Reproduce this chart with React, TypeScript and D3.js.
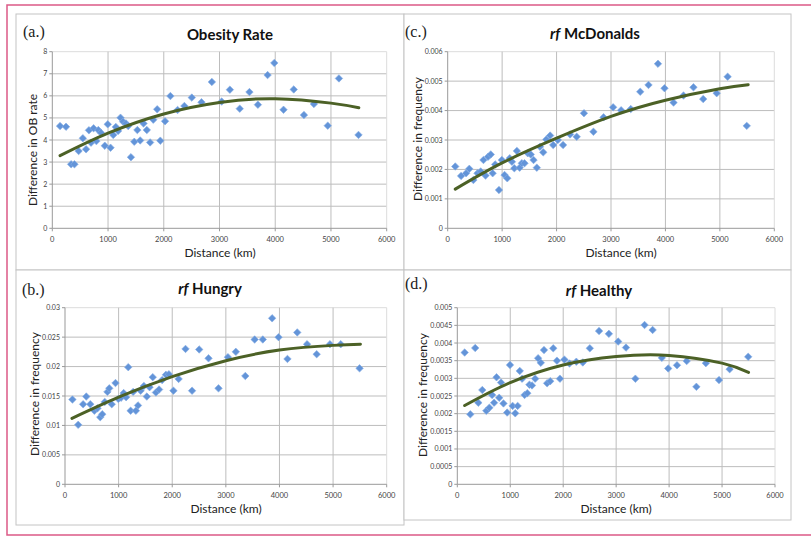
import React, { useEffect, useRef } from 'react';
import * as d3 from 'd3';

// distances (km) shared by all four panels
const distances = [
  139, 246, 338, 397, 472, 548, 606, 657, 695, 741,
  791, 826, 872, 942, 995, 1045, 1094, 1140, 1180, 1224,
  1271, 1322, 1362, 1411, 1471, 1526, 1577, 1637, 1696, 1755,
  1812, 1882, 1938, 2023, 2119, 2248, 2370, 2503, 2677, 2863,
  3039, 3186, 3363, 3537, 3689, 3863, 3983, 4149, 4332, 4515,
  4694, 4942, 5143, 5494,
];

const obesityDiff = [
  4.63, 4.60, 2.90, 2.90, 3.50, 4.08, 3.58, 4.44, 3.88, 4.53,
  3.95, 4.45, 4.33, 3.74, 4.71, 3.65, 4.23, 4.59, 4.41, 5.01,
  4.83, 4.75, 4.63, 3.22, 3.92, 4.45, 3.98, 4.75, 4.45, 3.89,
  4.92, 5.39, 3.97, 4.85, 5.99, 5.36, 5.54, 5.92, 5.71, 6.63,
  5.74, 6.28, 5.42, 6.17, 5.60, 6.94, 7.49, 5.37, 6.29, 5.13,
  5.63, 4.65, 6.79, 4.23,
];

const mcdonaldsDiff = [
  0.00210, 0.00178, 0.00187, 0.00202, 0.00164, 0.00187, 0.00193, 0.00232, 0.00179, 0.00243,
  0.00251, 0.00187, 0.00217, 0.00130, 0.00232, 0.00181, 0.00170, 0.00238, 0.00226, 0.00204,
  0.00263, 0.00206, 0.00221, 0.00221, 0.00255, 0.00251, 0.00232, 0.00206, 0.00277, 0.00258,
  0.00302, 0.00315, 0.00283, 0.00300, 0.00283, 0.00319, 0.00311, 0.00391, 0.00328, 0.00377,
  0.00411, 0.00401, 0.00405, 0.00464, 0.00487, 0.00559, 0.00476, 0.00427, 0.00451, 0.00479,
  0.00439, 0.00459, 0.00515, 0.00348,
];

const hungryDiff = [
  0.0144, 0.0101, 0.0136, 0.0149, 0.0136, 0.0125, 0.0129, 0.0114, 0.0119, 0.0140,
  0.0157, 0.0163, 0.0136, 0.0172, 0.0145, 0.0147, 0.0155, 0.0148, 0.0199, 0.0125,
  0.0157, 0.0125, 0.0134, 0.0159, 0.0167, 0.0149, 0.0165, 0.0182, 0.0156, 0.0161,
  0.0177, 0.0186, 0.0187, 0.0159, 0.0179, 0.0230, 0.0159, 0.0229, 0.0214, 0.0163,
  0.0216, 0.0225, 0.0184, 0.0246, 0.0246, 0.0282, 0.0250, 0.0213, 0.0258, 0.0238,
  0.0221, 0.0238, 0.0238, 0.0197,
];

const healthyDiff = [
  0.00373, 0.00198, 0.00386, 0.00231, 0.00267, 0.00208, 0.00217, 0.00253, 0.00231, 0.00303,
  0.00245, 0.00288, 0.00229, 0.00203, 0.00338, 0.00222, 0.00201, 0.00222, 0.00321, 0.00299,
  0.00253, 0.00258, 0.00282, 0.00280, 0.00299, 0.00357, 0.00344, 0.00380, 0.00286, 0.00292,
  0.00385, 0.00350, 0.00299, 0.00353, 0.00342, 0.00347, 0.00345, 0.00385, 0.00434, 0.00426,
  0.00404, 0.00387, 0.00299, 0.00451, 0.00437, 0.00358, 0.00328, 0.00337, 0.00349, 0.00276,
  0.00343, 0.00295, 0.00326, 0.00361,
];

// trend lines
const obesityTrendX = [139, 1000, 2000, 3000, 4000, 5000, 5500];
const obesityTrendY = [3.29, 4.31, 5.18, 5.70, 5.87, 5.67, 5.46];
const mcdonaldsTrendX = [139, 1000, 2000, 3000, 4000, 5000, 5520];
const mcdonaldsTrendY = [0.00133, 0.00222, 0.00306, 0.00380, 0.00435, 0.00474, 0.00488];
const hungryTrendX = [130, 1000, 2000, 3000, 4000, 5000, 5510];
const hungryTrendY = [0.0112, 0.0148, 0.0183, 0.0210, 0.0228, 0.0236, 0.0238];
const healthyTrendX = [139, 1000, 2000, 3000, 4000, 5000, 5500];
const healthyTrendY = [0.00223, 0.00288, 0.00338, 0.00362, 0.00365, 0.00343, 0.00317];

const xTicks = [0, 1000, 2000, 3000, 4000, 5000, 6000];
const obesityTicks = [0, 1, 2, 3, 4, 5, 6, 7, 8];
const mcdonaldsTicks = [0, 0.001, 0.002, 0.003, 0.004, 0.005, 0.006];
const hungryTicks = [0, 0.005, 0.01, 0.015, 0.02, 0.025, 0.03];
const healthyTicks = [0, 0.0005, 0.001, 0.0015, 0.002, 0.0025, 0.003, 0.0035, 0.004, 0.0045, 0.005];

const panels = [
  {
    label: '(a.)', rf: false, title: 'Obesity Rate', yTitle: 'Difference in OB rate',
    values: obesityDiff, yTicks: obesityTicks, trendX: obesityTrendX, trendY: obesityTrendY,
    box: [16, 14, 404, 270], plot: [52.3, 386.7, 51.7, 228.3],
    labelAt: [23, 37], titleAt: [230, 40], yTitleAt: [33, 150], xTitleAt: [220, 257], xTickY: 242,
  },
  {
    label: '(c.)', rf: true, title: 'McDonalds', yTitle: 'Difference in frequency',
    values: mcdonaldsDiff, yTicks: mcdonaldsTicks, trendX: mcdonaldsTrendX, trendY: mcdonaldsTrendY,
    box: [404, 14, 791, 270], plot: [447.7, 774.3, 51.7, 228.3],
    labelAt: [405, 37], titleAt: [595, 39], yTitleAt: [418, 139], xTitleAt: [621, 257], xTickY: 242,
  },
  {
    label: '(b.)', rf: true, title: 'Hungry', yTitle: 'Difference in frequency',
    values: hungryDiff, yTicks: hungryTicks, trendX: hungryTrendX, trendY: hungryTrendY,
    box: [16, 270, 404, 525], plot: [65, 386.7, 307.7, 484.3],
    labelAt: [22, 295], titleAt: [210, 294], yTitleAt: [35, 394], xTitleAt: [226, 513], xTickY: 498,
  },
  {
    label: '(d.)', rf: true, title: 'Healthy', yTitle: 'Difference in frequency',
    values: healthyDiff, yTicks: healthyTicks, trendX: healthyTrendX, trendY: healthyTrendY,
    box: [404, 270, 791, 520], plot: [457.3, 775, 307.7, 484.3],
    labelAt: [405, 289], titleAt: [599, 296], yTitleAt: [423, 395], xTitleAt: [616, 513], xTickY: 498,
  },
];

const sans = 'Lato, "Open Sans", sans-serif';

const App: React.FC = () => {
  const svgRef = useRef<SVGSVGElement>(null);

  useEffect(() => {
    if (!svgRef.current) return;
    const svg = d3.select(svgRef.current);
    svg.selectAll('*').remove();

    svg.append('rect').attr('width', 811).attr('height', 540).attr('fill', '#fff');

    panels.forEach(p => {
      const [bx0, by0, bx1, by1] = p.box;
      const [l, r, t, b] = p.plot;
      const x = d3.scaleLinear().domain([0, 6000]).range([l, r]);
      const yMax = p.yTicks[p.yTicks.length - 1];
      const y = d3.scaleLinear().domain([0, yMax]).range([b, t]);

      const g = svg.append('g');

      g.append('rect')
        .attr('x', bx0).attr('y', by0)
        .attr('width', bx1 - bx0).attr('height', by1 - by0)
        .attr('fill', '#fff').attr('stroke', '#c4c4c4').attr('stroke-width', 1);

      // gridlines
      g.selectAll('.hg').data(p.yTicks.slice(1)).enter().append('line')
        .attr('x1', l).attr('x2', r)
        .attr('y1', d => y(d)).attr('y2', d => y(d))
        .attr('stroke', (d, i) => (i === p.yTicks.length - 2 ? '#dcdcdc' : '#bdbdbd'))
        .attr('stroke-width', 1);
      g.selectAll('.vg').data(xTicks.slice(1)).enter().append('line')
        .attr('y1', t).attr('y2', b)
        .attr('x1', d => x(d)).attr('x2', d => x(d))
        .attr('stroke', (d, i) => (i === xTicks.length - 2 ? '#dcdcdc' : '#bdbdbd'))
        .attr('stroke-width', 1);

      // axes
      g.append('line').attr('x1', l).attr('x2', r).attr('y1', b).attr('y2', b)
        .attr('stroke', '#999').attr('stroke-width', 1);
      g.append('line').attr('x1', l).attr('x2', l).attr('y1', t).attr('y2', b)
        .attr('stroke', '#999').attr('stroke-width', 1);
      g.selectAll('.xt').data(xTicks).enter().append('line')
        .attr('x1', d => x(d)).attr('x2', d => x(d)).attr('y1', b).attr('y2', b + 3)
        .attr('stroke', '#999');
      g.selectAll('.yt').data(p.yTicks).enter().append('line')
        .attr('x1', l - 3).attr('x2', l).attr('y1', d => y(d)).attr('y2', d => y(d))
        .attr('stroke', '#999');

      g.selectAll('.xl').data(xTicks).enter().append('text')
        .attr('x', d => x(d)).attr('y', p.xTickY)
        .attr('text-anchor', 'middle')
        .attr('font-family', sans).attr('font-size', 7.5).attr('fill', '#444')
        .text(d => String(d));
      g.selectAll('.yl').data(p.yTicks).enter().append('text')
        .attr('x', l - 5).attr('y', d => y(d) + 2.5)
        .attr('text-anchor', 'end')
        .attr('font-family', sans).attr('font-size', 7).attr('fill', '#444')
        .text(d => String(d));

      // trend line
      const trend = p.trendX.map((v, i) => [v, p.trendY[i]] as [number, number]);
      const line = d3.line<[number, number]>()
        .x(d => x(d[0]))
        .y(d => y(d[1]))
        .curve(d3.curveNatural);

      // points
      const diamond = d3.symbol().type(d3.symbolSquare).size(28);
      g.selectAll('.pt').data(distances).enter().append('path')
        .attr('d', diamond)
        .attr('transform', (d, i) => `translate(${x(d)},${y(p.values[i])}) rotate(45)`)
        .attr('fill', '#6394d8')
        .attr('stroke', '#86aee6')
        .attr('stroke-width', 0.6);

      g.append('path')
        .datum(trend)
        .attr('fill', 'none')
        .attr('stroke', '#4c6126')
        .attr('stroke-width', 3)
        .attr('stroke-linecap', 'round')
        .attr('d', line);

      // texts
      g.append('text')
        .attr('x', p.labelAt[0]).attr('y', p.labelAt[1])
        .attr('font-family', '"Liberation Serif", serif').attr('font-size', 16).attr('fill', '#222')
        .text(p.label);

      const title = g.append('text')
        .attr('x', p.titleAt[0]).attr('y', p.titleAt[1])
        .attr('text-anchor', 'middle')
        .attr('font-family', sans).attr('font-size', 15).attr('font-weight', 'bold').attr('fill', '#111');
      if (p.rf) {
        title.append('tspan').attr('font-style', 'italic').text('rf');
        title.append('tspan').text(' ' + p.title);
      } else {
        title.text(p.title);
      }

      g.append('text')
        .attr('transform', `translate(${p.yTitleAt[0]},${p.yTitleAt[1]}) rotate(-90)`)
        .attr('text-anchor', 'middle').attr('dy', '0.35em')
        .attr('font-family', sans).attr('font-size', 12).attr('fill', '#222')
        .text(p.yTitle);

      g.append('text')
        .attr('x', p.xTitleAt[0]).attr('y', p.xTitleAt[1])
        .attr('text-anchor', 'middle')
        .attr('font-family', sans).attr('font-size', 12).attr('fill', '#222')
        .text('Distance (km)');
    });

    // pink frame
    svg.append('path')
      .attr('d', 'M811,5 L7,5 L7,535 L811,535')
      .attr('fill', 'none')
      .attr('stroke', '#dc5a86')
      .attr('stroke-width', 1.5);
  }, []);

  return (
    <svg
      ref={svgRef}
      width={811}
      height={540}
      style={{ position: 'absolute', left: 0, top: 0 }}
    ></svg>
  );
};

export default App;
